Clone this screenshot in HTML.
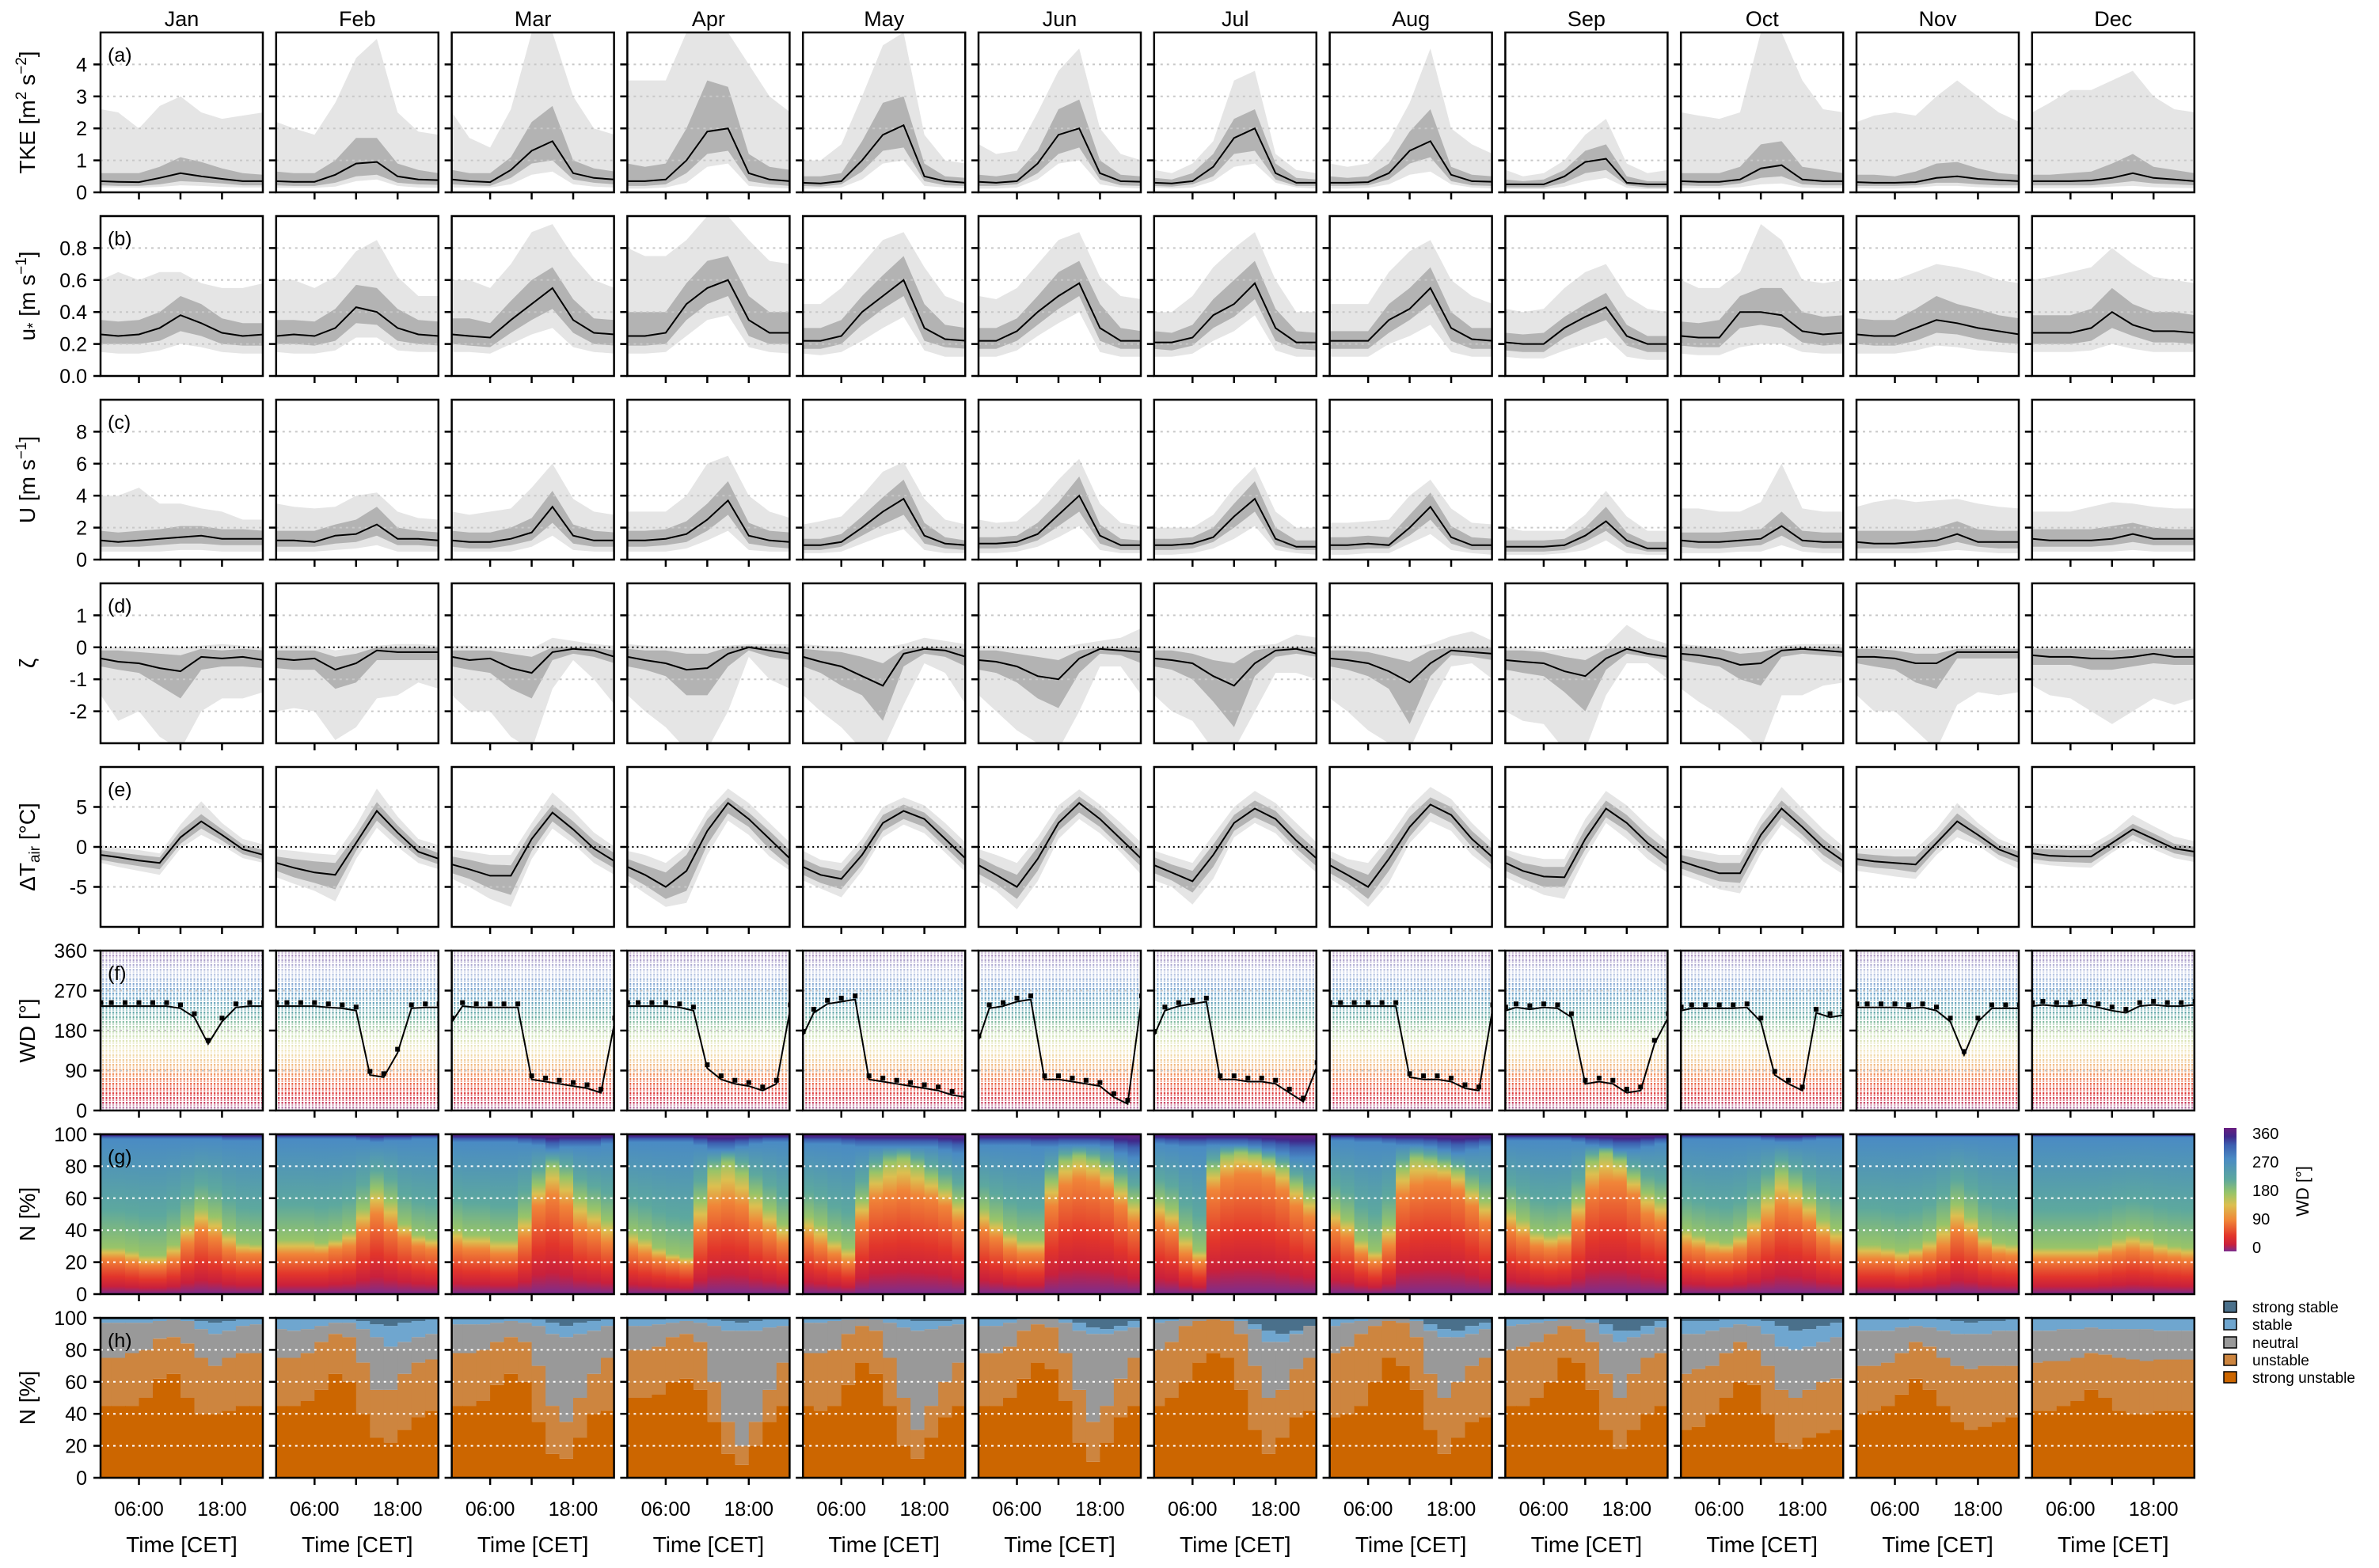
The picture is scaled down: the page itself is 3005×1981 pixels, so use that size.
<!DOCTYPE html>
<html><head><meta charset="utf-8"><style>
html,body{margin:0;padding:0;background:#fff;}
svg{display:block;font-family:"Liberation Sans",Arial,sans-serif;}
</style></head><body>
<svg id="chart" xmlns="http://www.w3.org/2000/svg" width="3005" height="1981" viewBox="0 0 3005 1981">
<defs>
 <linearGradient id="cmapV" x1="0" y1="1" x2="0" y2="0"></linearGradient>
 <linearGradient id="cmapF" x1="0" y1="1" x2="0" y2="0"></linearGradient>
 <pattern id="dots" width="4.27" height="6" patternUnits="userSpaceOnUse">
  <rect x="1.1" y="0" width="2" height="2.6" fill="#fff"/>
  <rect x="1.1" y="3.3" width="2" height="1.6" fill="#fff" opacity="0.7"/>
 </pattern>
 <mask id="dotmask" maskUnits="userSpaceOnUse" x="0" y="0" width="3005" height="1981">
  <rect x="0" y="0" width="3005" height="1981" fill="url(#dots)"/>
 </mask>
</defs>
<g id="bg"></g>
<g font-size="28" text-anchor="middle">
 <text transform="translate(44,142) rotate(-90)">TKE [m<tspan font-size="19" dy="-11">2</tspan><tspan dy="11"> s</tspan><tspan font-size="19" dy="-11">−2</tspan><tspan dy="11">]</tspan></text>
 <text transform="translate(44,374) rotate(-90)">u<tspan font-size="19" dy="4">*</tspan><tspan dy="-4"> [m s</tspan><tspan font-size="19" dy="-11">−1</tspan><tspan dy="11">]</tspan></text>
 <text transform="translate(44,606) rotate(-90)">U [m s<tspan font-size="19" dy="-11">−1</tspan><tspan dy="11">]</tspan></text>
 <text transform="translate(44,838) rotate(-90)">ζ</text>
 <text transform="translate(44,1070) rotate(-90)">ΔT<tspan font-size="19" dy="6">air</tspan><tspan dy="-6"> [°C]</tspan></text>
 <text transform="translate(44,1302) rotate(-90)">WD [°]</text>
 <text transform="translate(44,1534) rotate(-90)">N [%]</text>
 <text transform="translate(44,1766) rotate(-90)">N [%]</text>
</g>
<g>
 <rect x="2809" y="1425" width="16" height="156" fill="url(#cmapV)"/>
 <g font-size="20">
  <text x="2845" y="1439">360</text>
  <text x="2845" y="1475">270</text>
  <text x="2845" y="1511">180</text>
  <text x="2845" y="1547">90</text>
  <text x="2845" y="1583">0</text>
 </g>
 <text font-size="22" text-anchor="middle" transform="translate(2916,1505) rotate(-90)">WD [°]</text>
</g>
<g font-size="19">
 <rect x="2809" y="1644" width="16" height="14" fill="#4a708b" stroke="#000" stroke-width="1.5"/>
 <text x="2845" y="1658">strong stable</text>
 <rect x="2809" y="1666" width="16" height="14" fill="#6fa6cf" stroke="#000" stroke-width="1.5"/>
 <text x="2845" y="1680">stable</text>
 <rect x="2809" y="1689" width="16" height="14" fill="#999999" stroke="#000" stroke-width="1.5"/>
 <text x="2845" y="1703">neutral</text>
 <rect x="2809" y="1711" width="16" height="14" fill="#cd853f" stroke="#000" stroke-width="1.5"/>
 <text x="2845" y="1725">unstable</text>
 <rect x="2809" y="1733" width="16" height="14" fill="#cc6600" stroke="#000" stroke-width="1.5"/>
 <text x="2845" y="1747">strong unstable</text>
</g>
</svg>
<script>
// ---------- data ----------
const months = ["Jan","Feb","Mar","Apr","May","Jun","Jul","Aug","Sep","Oct","Nov","Dec"];
const hrs = [0.5,3,6,9,12,15,18,21,24];
const fHrs = [0.5,2,4,6,8,10,12,14,16,18,20,22,24];
const binStart = [0,2,4,6,8,10,12,14,16,18,20,22];

const tkeMed = [
[.35,.33,.32,.45,.6,.5,.42,.35,.35],[.35,.33,.33,.55,.9,.95,.5,.4,.38],[.4,.35,.32,.7,1.3,1.6,.6,.45,.4],
[.35,.35,.4,1.0,1.9,2.0,.6,.4,.35],[.3,.28,.35,1.0,1.8,2.1,.5,.35,.3],[.33,.3,.35,.9,1.8,2.0,.6,.35,.33],
[.3,.28,.35,.8,1.7,2.0,.6,.3,.3],[.3,.3,.32,.6,1.3,1.6,.55,.35,.33],[.25,.25,.25,.5,.95,1.05,.3,.25,.25],
[.35,.33,.33,.4,.75,.85,.4,.35,.35],[.32,.3,.3,.32,.45,.5,.42,.38,.35],[.35,.35,.35,.37,.45,.6,.45,.4,.35]];
const tkeQ25 = [
[.22,.2,.2,.25,.35,.32,.28,.22,.22],[.22,.2,.2,.3,.5,.55,.3,.25,.23],[.25,.22,.2,.45,.9,1.0,.4,.3,.25],
[.2,.2,.25,.6,1.2,1.3,.35,.25,.2],[.2,.18,.25,.65,1.3,1.4,.35,.22,.2],[.2,.2,.25,.6,1.2,1.4,.4,.22,.2],
[.2,.18,.25,.5,1.2,1.3,.4,.2,.2],[.2,.2,.22,.4,.9,1.1,.35,.22,.2],[.15,.15,.15,.3,.6,.7,.22,.15,.15],
[.22,.2,.2,.28,.45,.5,.25,.22,.22],[.2,.2,.2,.22,.3,.3,.25,.22,.22],[.22,.22,.22,.22,.28,.35,.28,.25,.22]];
const tkeQ75 = [
[.6,.6,.6,.8,1.1,.95,.75,.6,.55],[.65,.6,.6,1.0,1.7,1.7,.9,.7,.6],[.7,.6,.6,1.1,2.2,2.7,1.0,.75,.65],
[.9,.8,.9,2.0,3.5,3.3,1.2,.8,.7],[.5,.5,.6,1.6,2.8,3.0,.9,.5,.45],[.55,.5,.6,1.3,2.6,2.9,1.0,.55,.5],
[.45,.4,.6,1.2,2.3,2.6,.9,.45,.4],[.5,.45,.5,.9,1.9,2.6,.8,.55,.5],[.4,.35,.4,.7,1.3,1.5,.5,.35,.35],
[.6,.6,.6,.8,1.5,1.6,.8,.7,.6],[.55,.55,.5,.65,.9,.95,.75,.6,.55],[.55,.55,.6,.65,.9,1.2,.8,.7,.6]];
const tkeQ05 = [
[.15,.15,.14,.17,.22,.2,.17,.15,.15],[.14,.14,.14,.18,.35,.4,.2,.15,.14],[.15,.15,.15,.25,.55,.65,.25,.18,.15],
[.12,.12,.15,.3,.8,.9,.2,.15,.12],[.12,.12,.15,.4,.9,1.0,.2,.15,.12],[.12,.12,.15,.4,.9,1.0,.25,.15,.12],
[.15,.12,.15,.35,.8,.9,.3,.15,.12],[.12,.12,.14,.25,.55,.65,.25,.15,.12],[.1,.1,.1,.18,.35,.45,.14,.1,.1],
[.13,.13,.13,.16,.25,.28,.15,.13,.13],[.13,.12,.12,.14,.2,.2,.16,.14,.13],[.13,.13,.13,.14,.18,.2,.16,.14,.13]];
const tkeQ95 = [
[2.6,2.5,2.0,2.7,3.0,2.5,2.3,2.4,2.5],[2.2,2.0,1.8,2.8,4.2,4.8,2.5,1.9,1.8],[2.5,1.7,1.4,2.6,5,5,3,2,1.8],
[3.5,3.5,3.5,5,5,5,4,3,2.5],[1.0,1.0,1.5,3,4.6,5,1.8,1.0,.9],[1.5,1.2,1.3,2.5,3.8,4.5,2.0,1.2,1.0],
[.7,.6,.9,1.6,3.5,3.8,1.2,.7,.6],[.9,.8,.9,1.6,2.8,4.5,2.0,1.5,1.2],[.7,.5,.6,1.0,1.8,2.3,.9,.6,.7],
[2.5,2.4,2.3,2.5,5,5,3.5,2.6,2.5],[2.2,2.4,2.5,2.4,3.0,3.5,3.0,2.5,2.2],[2.5,2.8,3.2,3.2,3.5,3.8,3.0,2.6,2.5]];

const usMed = [
[.26,.25,.26,.3,.38,.33,.27,.25,.26],[.25,.26,.25,.3,.43,.4,.3,.26,.25],[.26,.25,.24,.35,.45,.55,.35,.27,.26],
[.25,.25,.27,.45,.55,.6,.35,.27,.27],[.22,.22,.25,.4,.5,.6,.3,.23,.22],[.22,.22,.28,.4,.5,.58,.3,.22,.22],
[.21,.21,.24,.38,.45,.58,.3,.21,.21],[.22,.22,.22,.35,.42,.55,.3,.23,.22],[.21,.2,.2,.3,.37,.43,.25,.2,.2],
[.25,.24,.24,.4,.4,.38,.28,.26,.27],[.26,.25,.25,.3,.35,.33,.3,.28,.26],[.27,.27,.27,.3,.4,.32,.28,.28,.27]];
const usQ25 = [
[.2,.2,.2,.22,.28,.25,.2,.19,.19],[.2,.2,.19,.22,.33,.32,.22,.2,.19],[.2,.19,.18,.27,.35,.42,.27,.2,.19],
[.19,.19,.2,.35,.45,.5,.25,.2,.2],[.17,.17,.2,.32,.42,.5,.22,.18,.17],[.17,.17,.22,.32,.42,.5,.22,.17,.17],
[.17,.16,.19,.3,.37,.48,.22,.17,.16],[.17,.17,.17,.27,.35,.45,.22,.17,.17],[.16,.15,.15,.24,.3,.35,.19,.15,.15],
[.19,.18,.18,.3,.32,.3,.21,.19,.2],[.2,.19,.19,.22,.27,.26,.23,.21,.2],[.2,.2,.2,.22,.3,.25,.21,.21,.2]];
const usQ75 = [
[.35,.34,.35,.4,.5,.45,.36,.33,.33],[.35,.35,.34,.42,.57,.55,.42,.35,.34],[.36,.36,.33,.47,.6,.68,.48,.36,.35],
[.4,.4,.4,.58,.72,.75,.5,.4,.4],[.3,.3,.35,.5,.63,.75,.45,.32,.3],[.3,.3,.36,.5,.65,.72,.45,.3,.28],
[.28,.27,.32,.48,.6,.72,.42,.28,.27],[.28,.28,.28,.45,.55,.68,.4,.3,.3],[.27,.26,.27,.37,.45,.52,.32,.25,.25],
[.34,.33,.35,.5,.55,.55,.4,.37,.38],[.36,.35,.35,.42,.5,.45,.42,.38,.36],[.38,.38,.38,.42,.55,.45,.4,.4,.38]];
const usQ05 = [
[.15,.14,.14,.16,.2,.18,.15,.14,.14],[.15,.14,.14,.16,.24,.24,.16,.15,.15],[.15,.15,.14,.2,.26,.3,.18,.15,.14],
[.14,.14,.15,.25,.35,.38,.18,.15,.14],[.14,.13,.15,.22,.3,.37,.16,.12,.12],[.12,.12,.16,.25,.33,.4,.15,.12,.12],
[.12,.12,.14,.22,.28,.38,.16,.12,.12],[.12,.12,.12,.2,.25,.32,.15,.12,.12],[.12,.11,.11,.16,.2,.24,.12,.1,.1],
[.14,.13,.13,.18,.2,.2,.15,.14,.14],[.14,.14,.14,.16,.19,.18,.16,.15,.14],[.15,.15,.15,.16,.2,.17,.15,.15,.15]];
const usQ95 = [
[.6,.65,.6,.65,.65,.58,.55,.55,.58],[.6,.6,.55,.62,.78,.85,.62,.5,.5],[.6,.6,.55,.7,.9,.95,.75,.6,.55],
[.8,.75,.75,.85,1.0,1.0,.85,.72,.7],[.45,.45,.55,.7,.85,.9,.68,.5,.45],[.5,.48,.55,.7,.85,.9,.62,.5,.48],
[.4,.4,.5,.68,.8,.9,.6,.4,.4],[.45,.45,.45,.65,.78,.85,.6,.5,.45],[.42,.4,.42,.55,.65,.7,.5,.42,.4],
[.6,.55,.55,.65,.95,.85,.6,.58,.6],[.6,.6,.6,.65,.7,.68,.65,.6,.58],[.6,.62,.65,.68,.8,.7,.62,.6,.58]];

const uMed = [
[1.2,1.1,1.2,1.3,1.4,1.5,1.3,1.3,1.3],[1.2,1.2,1.1,1.5,1.6,2.2,1.3,1.3,1.2],[1.2,1.1,1.1,1.3,1.7,3.3,1.5,1.2,1.2],
[1.2,1.2,1.3,1.6,2.5,3.7,1.5,1.2,1.1],[.9,.9,1.1,2.0,3.0,3.8,1.5,1,.9],[1,1,1.1,1.6,2.8,4,1.5,.9,.9],
[.9,.9,1,1.4,2.7,3.8,1.3,.8,.8],[.9,.9,1,.9,2.0,3.3,1.4,.9,.9],[.8,.8,.8,.9,1.5,2.4,1.2,.7,.7],
[1.2,1.1,1.1,1.2,1.3,2.1,1.2,1.1,1.1],[1.1,1.0,1.0,1.1,1.2,1.6,1.1,1.1,1.1],[1.3,1.2,1.2,1.2,1.3,1.6,1.3,1.3,1.3]];
const uQ25 = [
[.8,.8,.8,.9,1,1,.9,.9,.9],[.8,.8,.8,1,1.1,1.5,.9,.9,.8],[.8,.7,.7,.9,1.2,2.3,1,.8,.8],
[.8,.8,.9,1.1,1.8,2.8,1,.8,.7],[.6,.6,.8,1.5,2.2,2.8,1,.7,.6],[.7,.7,.8,1.2,2.1,3,1,.6,.6],
[.6,.6,.7,1.1,2,3,.9,.6,.6],[.6,.6,.7,.7,1.5,2.5,1,.6,.6],[.5,.5,.5,.6,1.1,1.8,.8,.5,.5],
[.8,.7,.7,.8,.9,1.5,.8,.7,.7],[.7,.7,.7,.7,.8,1.1,.8,.7,.7],[.8,.8,.8,.8,.9,1.1,.9,.9,.9]];
const uQ75 = [
[1.8,1.7,1.8,1.9,2.1,2.1,1.9,1.9,1.8],[1.8,1.8,1.8,2.2,2.5,3.3,2,1.8,1.7],[1.8,1.7,1.7,2,2.6,4.3,2.2,1.8,1.7],
[1.8,1.8,1.9,2.4,3.5,4.9,2.3,1.8,1.7],[1.3,1.3,1.6,2.7,3.9,5.0,2.3,1.4,1.2],[1.4,1.4,1.5,2.3,3.6,5.2,2.2,1.3,1.2],
[1.3,1.3,1.4,2.0,3.5,4.9,2,1.2,1.2],[1.4,1.4,1.5,1.4,2.8,4.2,2.1,1.4,1.3],[1.2,1.2,1.2,1.3,2,3.3,1.7,1.1,1.1],
[1.7,1.7,1.7,1.8,1.9,3.0,1.8,1.7,1.7],[1.8,1.8,1.8,1.8,2,2.4,1.9,1.8,1.8],[1.9,1.9,1.9,1.9,2.1,2.3,2,1.9,1.9]];
const uQ05 = [
[.5,.5,.5,.5,.6,.6,.5,.5,.5],[.5,.5,.5,.6,.7,.9,.5,.5,.5],[.5,.5,.5,.5,.8,1.5,.6,.5,.5],
[.5,.5,.5,.7,1.2,1.8,.6,.5,.5],[.4,.4,.5,1,1.5,1.9,.6,.4,.4],[.4,.4,.5,.8,1.4,2.1,.6,.4,.4],
[.3,.3,.4,.7,1.3,2.1,.6,.4,.3],[.3,.3,.4,.4,1,1.6,.6,.4,.3],[.3,.3,.3,.4,.6,1.2,.4,.3,.3],
[.4,.4,.4,.5,.5,.9,.5,.4,.4],[.4,.4,.4,.4,.5,.6,.5,.4,.4],[.5,.5,.5,.5,.5,.6,.5,.5,.5]];
const uQ95 = [
[4,4,4.5,3.5,3.5,3.2,3,2.5,2.5],[3.5,3.3,3.2,3.3,4,4.2,3,2.6,2.5],[3,2.8,3,3.2,4.5,6,3.8,3,2.8],
[3,3,3,4,6,6.5,4,3,2.6],[2.2,2.4,2.7,4,5.5,6.1,3.8,2.5,2.2],[2.5,2.3,2.4,3.5,5,6.3,3.5,2.3,2.1],
[2,2,2,2.8,4.5,5.8,3,2,2],[2.3,2.3,2.4,2.5,4,5,3.2,2.3,2.2],[2,1.8,1.8,1.8,2.8,4.3,2.7,1.8,1.8],
[3.2,3.2,3,3,3.6,6,3.2,3,3],[3.3,3.6,3.8,3.6,3.7,3.8,3.5,3.3,3.2],[3,3,3,3.3,3.6,3.5,3.3,3.2,3.2]];

const zMed = [
[-.35,-.45,-.5,-.65,-.75,-.3,-.35,-.3,-.4],[-.35,-.4,-.35,-.7,-.5,-.1,-.15,-.15,-.15],[-.3,-.4,-.35,-.65,-.8,-.15,-.05,-.1,-.3],
[-.3,-.4,-.5,-.7,-.65,-.2,0,-.1,-.2],[-.3,-.45,-.6,-.9,-1.2,-.2,-.05,-.1,-.3],[-.4,-.45,-.6,-.9,-1.0,-.35,-.05,-.1,-.15],
[-.35,-.4,-.5,-.9,-1.2,-.5,-.1,-.05,-.2],[-.35,-.4,-.5,-.75,-1.1,-.5,-.1,-.15,-.2],[-.4,-.45,-.5,-.75,-.9,-.35,-.05,-.2,-.3],
[-.2,-.25,-.35,-.55,-.5,-.1,-.05,-.1,-.15],[-.3,-.3,-.35,-.5,-.5,-.15,-.15,-.15,-.15],[-.25,-.3,-.3,-.35,-.35,-.3,-.2,-.3,-.3]];
const zQ25 = [
[-.6,-.7,-.8,-1.2,-1.6,-.7,-.6,-.6,-.65],[-.65,-.7,-.7,-1.3,-1.1,-.4,-.4,-.4,-.4],[-.6,-.7,-.8,-1.3,-1.6,-.4,-.2,-.3,-.5],
[-.6,-.7,-.9,-1.5,-1.5,-.6,-.1,-.3,-.4],[-.6,-.8,-1.2,-1.5,-2.3,-.6,-.2,-.3,-.6],[-.7,-.8,-1.1,-1.6,-1.9,-.8,-.2,-.25,-.5],
[-.6,-.7,-1,-1.7,-2.5,-.9,-.3,-.2,-.3],[-.6,-.7,-.9,-1.3,-2.4,-.9,-.25,-.3,-.4],[-.7,-.8,-.9,-1.4,-2,-.7,-.2,-.3,-.4],
[-.4,-.5,-.6,-1,-1.2,-.3,-.2,-.25,-.3],[-.5,-.6,-.7,-1.1,-1.3,-.35,-.35,-.35,-.35],[-.55,-.55,-.55,-.7,-.7,-.6,-.5,-.55,-.55]];
const zQ75 = [
[-.1,-.1,-.15,-.2,-.25,-.05,-.1,-.05,-.1],[-.1,-.1,-.1,-.3,-.2,0,0,0,0],[-.1,-.1,-.1,-.2,-.3,0,0,0,-.1],
[-.05,-.1,-.1,-.2,-.2,0,.05,0,0],[-.05,-.1,-.15,-.3,-.5,-.05,0,0,-.05],[-.1,-.1,-.2,-.3,-.4,-.1,0,0,0],
[-.1,-.1,-.2,-.4,-.5,-.1,0,0,0],[-.1,-.1,-.15,-.3,-.45,-.1,0,0,0],[-.1,-.1,-.15,-.3,-.4,-.05,0,0,0],
[0,0,-.05,-.2,-.15,0,0,0,0],[-.05,-.05,-.1,-.2,-.2,-.05,-.05,-.05,-.05],[-.05,-.05,-.05,-.05,-.1,-.05,-.05,-.05,-.05]];
const zQ05 = [
[-1.5,-2.3,-2,-2.8,-3.2,-2,-1.6,-1.6,-1.4],[-2,-1.9,-2,-2.9,-2.5,-1.6,-1.5,-1.1,-1.3],[-1.5,-2,-2,-2.8,-3.2,-1.3,-.4,-1,-1.8],
[-1.5,-2,-2.5,-3.2,-3.2,-2,-.3,-1,-1.3],[-1.5,-2,-2.5,-3.2,-3.2,-1.8,-.5,-.8,-1.8],[-1.5,-2,-2.6,-3,-3.2,-2,-.6,-.6,-1.5],
[-1.5,-2,-2.3,-3.2,-3.2,-2,-.8,-.8,-1],[-1.6,-2,-2.6,-3,-3.2,-1.8,-.6,-.5,-1],[-2,-2.3,-2.4,-3.2,-3.2,-1.5,-.5,-.5,-1],
[-1.3,-1.7,-2.1,-2.6,-3.2,-1.5,-1.5,-1.2,-1.1],[-1.5,-2,-2,-2.6,-3.2,-1.8,-1.4,-1.5,-1.4],[-1.2,-1.5,-1.6,-2,-2.4,-2,-1.6,-1.8,-1.6]];
const zQ95 = [
[0,0,0,0,0,.05,.1,.05,0],[.05,.05,.05,-.1,0,.05,.1,.1,.05],[.05,.05,0,-.05,-.05,.3,.2,.1,.05],
[.1,.05,0,0,0,.05,.1,.1,.1],[.1,.05,0,0,0,.1,.3,.2,.1],[.05,.05,0,0,0,.1,.2,.3,.6],
[.05,0,0,0,0,.05,.1,.4,.3],[.05,.05,0,0,0,.1,.35,.5,.2],[0,0,-.1,-.05,0,.05,.7,.3,.1],
[.1,.05,0,0,0,.05,.1,.1,.1],[0,.05,0,0,0,.05,.05,.05,0],[0,0,0,0,0,0,0,0,0]];

const tMed = [
[-1,-1.3,-1.7,-2,1.2,3.2,1.5,-.3,-1],[-2,-2.6,-3.2,-3.5,.5,4.5,1.8,-.6,-1.5],[-2.2,-2.8,-3.6,-3.6,1,4.3,2.2,-.2,-1.8],
[-2.5,-3.5,-5,-3,2,5.5,3.5,1,-1.5],[-2.5,-3.5,-4,-1,3,4.5,3.5,1,-1.5],[-2.3,-3.5,-5,-1.5,3,5.5,3.5,1,-1.5],
[-2.3,-3.2,-4.3,-1,3,4.8,3.5,.8,-1.5],[-2.3,-3.5,-5,-1.5,2.5,5.3,4,1,-1.3],[-2,-3,-3.7,-3.8,1,4.8,3,.5,-1.5],
[-1.8,-2.5,-3.3,-3.3,1.5,4.8,2.5,0,-1.8],[-1.5,-1.8,-2,-2.2,.5,3.2,1.5,-.3,-1.3],[-.8,-1.1,-1.2,-1.2,.5,2.2,1,-.2,-.6]];
const tQ25 = [
[-1.6,-2,-2.4,-2.8,.4,2.3,.8,-.9,-1.6],[-3,-3.8,-4.5,-5.3,-.5,3.3,.9,-1.3,-2.2],[-3.3,-4,-5.2,-6,-.5,3.2,1.2,-1.2,-2.7],
[-3.6,-4.8,-6.5,-5.5,.3,4.2,2.5,-.3,-2.5],[-3.5,-4.5,-5.3,-2.2,2,3.5,2.5,0,-2.5],[-3.4,-4.6,-6.5,-3,2,4.3,2.5,0,-2.5],
[-3.3,-4.2,-5.7,-2.5,2,3.7,2.5,-.2,-2.5],[-3.3,-4.5,-6.5,-3,1.3,4.3,3,0,-2.3],[-3,-4,-5,-5,-.3,3.7,2,-.5,-2.5],
[-2.7,-3.5,-4.3,-4.5,.3,3.7,1.5,-1,-2.7],[-2.3,-2.6,-2.8,-3.2,-.3,2.2,.8,-1,-2],[-1.5,-1.8,-1.9,-2,-.3,1.5,.3,-.8,-1.3]];
const tQ75 = [
[-.4,-.7,-1,-1.3,2,4.1,2.2,.3,-.4],[-1.2,-1.5,-1.8,-2,1.5,5.6,2.7,.2,-.8],[-1.2,-1.6,-2.2,-2.3,2,5.3,3.2,.8,-.8],
[-1.5,-2.3,-3.2,-1,3.5,6.2,4.3,2,-.5],[-1.5,-2.5,-3,0,4,5.3,4.3,2,-.5],[-1.3,-2.4,-3.5,0,4,6.3,4.5,2,-.5],
[-1.3,-2.2,-3,.3,4,5.8,4.5,1.8,-.5],[-1.3,-2.5,-3.5,0,3.8,6.2,5,2,-.3],[-1,-2,-2.5,-2.5,2.3,5.8,4,1.5,-.5],
[-1,-1.5,-2,-2,2.7,5.8,3.5,1,-1],[-.8,-1,-1.2,-1.2,1.3,4.2,2.3,.3,-.6],[-.2,-.3,-.4,-.4,1.1,2.9,1.7,.4,0]];
const tQ05 = [
[-2,-2.5,-3,-3.5,-.2,1.5,.2,-1.4,-2],[-3.8,-4.6,-5.5,-6.8,-1.5,2.4,0,-2,-2.8],[-4,-5,-6.5,-7.5,-1.5,2.3,.4,-2,-3.5],
[-4.3,-5.8,-7.5,-7,-1,3.3,1.5,-1.2,-3],[-4.2,-5.2,-6.3,-3,1.2,2.8,1.7,-.7,-3.2],[-4.3,-5.5,-7.8,-4.3,1,3.5,1.7,-.7,-3.5],
[-4.2,-5,-7.2,-4,1.2,3,1.7,-1,-3.3],[-4,-5.3,-7.5,-4.5,.5,3.2,2,-1,-3],[-3.8,-4.8,-6,-6.5,-1.3,3,1,-1.5,-3.3],
[-3.5,-4.2,-5.3,-5.8,-.8,2.8,.8,-1.8,-3.5],[-3,-3.3,-3.7,-4,-1,1.2,.2,-1.6,-2.8],[-2,-2.3,-2.5,-2.6,-.7,.8,-.3,-1.4,-1.9]];
const tQ95 = [
[.2,-.1,-.4,-.8,2.8,5.7,3,1,.3],[-.3,-.5,-.8,-1,2.7,7.3,3.8,1,.2],[-.3,-.6,-1,-1,3,6.8,4.5,1.8,0],
[-.5,-1,-2,0,4.5,7.3,5.5,3,.5],[-.5,-1.6,-2,1,5,6.2,5.2,3,.5],[-.3,-1,-2,1.2,5.2,7.2,5.3,3,.5],
[-.5,-1.2,-2,1.5,5,7,5.5,3,.5],[-.5,-1.5,-2,1.2,5,7.5,6,3,.5],[-.3,-1,-1.5,-1.5,3.5,7,5.2,2.7,.5],
[-.2,-.5,-1,-1,3.7,7.5,4.8,2.2,0],[-.2,-.2,-.3,-.3,2.2,5.5,3,1,0],[.4,.3,.2,.3,1.8,4,2.6,1.3,.7]];

const wdMed = [
[235,235,235,235,235,235,230,210,150,200,232,235,235],[235,235,235,235,232,230,225,80,75,130,230,232,232],
[200,235,232,232,232,232,70,65,60,55,50,40,200],[235,235,235,235,232,225,95,70,60,55,45,60,230],
[170,220,240,245,250,70,65,60,55,50,45,35,30],[160,230,235,245,250,70,70,65,60,55,30,15,250],
[170,225,235,240,245,70,70,65,65,60,40,20,100],[235,235,235,235,235,235,75,70,70,65,50,45,230],
[225,232,228,232,230,210,60,65,60,40,45,150,210],[225,230,230,230,230,232,200,80,60,45,220,210,215],
[232,232,232,232,230,232,225,200,125,200,230,230,230],[235,238,235,235,238,232,225,220,235,238,235,235,238]];

const gB90 = [
[22,22,20,18,18,22,32,40,35,28,25,25],[25,25,25,25,28,30,40,50,42,35,30,28],[30,28,28,25,25,35,55,62,55,42,38,32],
[28,25,22,20,18,40,55,58,55,45,38,32],[35,30,25,20,45,60,62,65,62,60,55,45],[40,35,28,25,25,55,68,72,70,65,55,45],
[45,40,25,20,65,72,75,75,72,65,55,48],[40,35,25,20,30,62,68,70,70,65,55,45],[40,35,30,28,30,45,65,70,70,62,50,45],
[30,28,25,25,28,35,45,55,52,45,35,30],[22,22,22,20,22,25,30,40,35,28,25,24],[22,22,22,22,22,24,26,28,26,24,23,22]];
const gB180 = [
[30,30,28,25,25,32,45,55,50,40,33,32],[35,35,35,33,35,40,55,68,60,45,38,36],[42,38,38,35,35,50,70,82,75,62,55,48],
[40,36,30,26,24,60,80,85,78,65,55,45],[50,45,35,30,60,78,85,87,82,75,68,60],[55,48,40,35,35,72,85,88,85,80,70,60],
[60,55,38,28,80,88,90,88,85,80,70,62],[55,48,35,28,45,80,87,85,82,78,68,60],[55,48,40,38,40,60,85,90,85,75,65,60],
[42,38,35,33,38,50,65,78,70,60,48,42],[32,32,30,28,30,35,45,58,50,38,33,32],[30,30,30,30,30,32,36,38,36,33,31,30]];
const gB270 = [
[97,97,97,97,97,97,97,97,97,96,96,96],[97,97,97,97,97,97,96,95,96,96,97,97],[95,95,95,95,95,94,93,90,92,92,92,94],
[95,95,95,95,95,93,90,90,92,94,95,95],[94,94,94,93,92,92,92,92,92,92,90,88],[93,93,93,93,92,92,93,93,93,92,88,85],
[94,93,92,92,93,93,93,92,90,88,85,85],[96,96,95,95,94,93,93,92,90,88,90,92],[96,96,96,96,96,95,93,92,90,90,92,94],
[97,97,97,97,97,97,96,95,95,96,97,97],[98,98,98,98,98,98,98,98,98,98,98,98],[98,98,98,98,98,98,98,98,98,98,98,98]];

const sStrongUnst = [
[45,45,45,50,62,65,50,40,40,42,45,45],[45,45,48,55,65,60,40,25,22,30,38,42],[45,45,48,58,65,60,35,15,12,25,40,42],
[50,50,52,60,62,55,35,15,8,20,35,45],[45,42,45,58,72,65,45,20,12,25,38,45],[45,45,50,62,72,68,48,22,10,22,38,45],
[45,50,60,72,78,75,55,30,15,25,38,42],[38,40,45,60,75,70,55,30,15,25,35,38],[45,45,50,60,75,72,55,30,18,30,40,45],
[30,32,40,50,60,58,40,22,18,25,28,30],[40,42,45,52,62,55,45,35,30,32,35,38],[42,42,45,48,55,50,42,40,40,42,42,42]];
const sUnst = [
[75,75,78,80,87,88,84,75,70,75,78,78],[75,75,78,85,90,88,72,55,55,65,72,74],[78,78,80,85,88,85,70,45,35,50,65,75],
[80,80,82,88,90,85,60,35,20,35,55,72],[78,78,80,90,95,92,75,50,30,45,60,72],[78,78,82,92,96,94,78,55,35,45,62,75],
[80,85,95,98,99,98,90,70,50,55,68,75],[78,82,90,95,98,97,88,65,50,60,70,75],[80,82,85,90,95,93,85,65,50,65,75,78],
[65,68,70,78,85,80,70,55,50,55,60,62],[70,70,72,78,85,82,75,70,68,70,70,70],[72,73,73,75,78,77,75,74,73,74,74,74]];
const sNeutral = [
[97,97,97,97,98,99,98,93,90,92,95,96],[93,92,93,95,97,97,93,88,82,85,88,90],[96,96,96,97,98,97,95,90,88,90,92,95],
[95,95,96,97,98,97,95,92,92,92,94,95],[97,97,98,99,100,99,97,94,92,93,95,96],[95,95,97,99,100,100,97,92,90,90,92,94],
[97,98,99,100,100,100,98,93,85,85,90,95],[95,97,98,99,100,100,98,92,88,88,90,93],[95,96,97,98,99,99,97,90,85,88,90,94],
[90,90,92,94,96,95,90,82,80,82,85,88],[92,92,92,94,95,94,92,90,90,90,92,92],[92,92,93,93,94,93,93,93,93,92,92,92]];
const sStable = [
[99,99,99,99,99.5,100,99,98,97,98,99,99],[99,99,99,99,99,99,98,96,95,97,98,99],[99,99,99,99,99.5,99.5,99,97,95,97,98,99],
[99,99,99,100,100,100,99,98,97,98,99,99],[99,99,99,100,100,100,99.5,99,98,98,98,99],[99,99,99,100,100,100,99,97,94,93,95,98],
[99,99,100,100,100,100,99,96,92,90,92,95],[99,99,100,100,100,100,99,96,93,92,95,97],[99,99,99,100,100,100,99,96,92,92,95,98],
[98,98,98,99,99,99,98,95,92,93,95,97],[99,99,99,99,99.5,99.5,99,98,97,98,98,99],[99,99,99,99,99,99,99,99,99,99,99,99]];

const yTicks = [[0,1,2,3,4],[0,0.2,0.4,0.6,0.8],[0,2,4,6,8],[-2,-1,0,1],[-5,0,5],[0,90,180,270,360],[0,20,40,60,80,100],[0,20,40,60,80,100]];
const yTickLabels = [["0","1","2","3","4"],["0.0","0.2","0.4","0.6","0.8"],["0","2","4","6","8"],["-2","-1","0","1"],["-5","0","5"],["0","90","180","270","360"],["0","20","40","60","80","100"],["0","20","40","60","80","100"]];
const yGrid = [[1,2,3,4],[0.2,0.4,0.6,0.8],[2,4,6,8],[-2,-1,1],[-5,5],[90,180,270],[20,40,60,80],[20,40,60,80]];
const xTicks = [6,12,18];
const xTickLabels = ["06:00","18:00"];
const xLabelHours = [6,18];
const panelLetters = ["(a)","(b)","(c)","(d)","(e)","(f)","(g)","(h)"];
const cmapWD = [0,20,45,90,135,170,210,270,310,335,360];
const cmapCol = ["#7b2d8e","#c9203c","#e2352b","#f08538","#dcbf50","#98c468","#5da89e","#4a8bc4","#3d5fb0","#40288a","#6a1e80"];
const scatterDensity = [0.55,0.95,1,0.85,0.4,0.5,1,0.85,0.35,0.45,0.55];

// ---------- layout ----------
const L0=127, PX=221.8, PW=205, T0=41, PY=232, PH=202;
const rowLim = [[0,5],[0,1],[0,10],[-3,2],[-10,10],[0,360],[0,100],[0,100]];
const NS="http://www.w3.org/2000/svg";
const svg=document.getElementById('chart');
const bg=document.getElementById('bg');
const defs=svg.querySelector('defs');
function el(tag,attrs,parent){const e=document.createElementNS(NS,tag);for(const k in attrs)e.setAttribute(k,attrs[k]);(parent||svg).appendChild(e);return e;}
function px(m){return L0+m*PX;}
function xs(m,h){return px(m)+(h-0.45)*PW/23.45;}
function ys(r,v){const lo=rowLim[r][0],hi=rowLim[r][1];return T0+r*PY+PH-(v-lo)/(hi-lo)*PH;}

(function(){
  const g=document.getElementById('cmapV');
  cmapWD.forEach((w,i)=>{el('stop',{offset:(w/360).toFixed(4),'stop-color':cmapCol[i]},g);});
  const f=document.getElementById('cmapF');
  cmapWD.forEach((w,i)=>{el('stop',{offset:(w/360).toFixed(4),'stop-color':cmapCol[i],'stop-opacity':scatterDensity[i]},f);});
})();

for(let r=0;r<8;r++)for(let m=0;m<12;m++){
  const cp=el('clipPath',{id:'cp'+r+'_'+m},defs);
  el('rect',{x:px(m),y:T0+r*PY,width:PW,height:PH},cp);
}

const bandRows=[[tkeMed,tkeQ25,tkeQ75,tkeQ05,tkeQ95],[usMed,usQ25,usQ75,usQ05,usQ95],[uMed,uQ25,uQ75,uQ05,uQ95],[zMed,zQ25,zQ75,zQ05,zQ95],[tMed,tQ25,tQ75,tQ05,tQ95]];
const rowNames=['tke','ustar','windspeed','zeta','dtair','wd','wd-freq','stability'];

function band(r,m,lo,hi,fill,g,name){
  let pts=[];
  hrs.forEach((h,i)=>pts.push(xs(m,h).toFixed(1)+','+ys(r,hi[m][i]).toFixed(1)));
  for(let i=hrs.length-1;i>=0;i--)pts.push(xs(m,hrs[i]).toFixed(1)+','+ys(r,lo[m][i]).toFixed(1));
  const p=el('polygon',{points:pts.join(' '),fill:fill},g);
  
  
}

for(let r=0;r<8;r++){
  for(let m=0;m<12;m++){
    const g=el('g',{'clip-path':'url(#cp'+r+'_'+m+')'},bg);
    
    
    const top=T0+r*PY, left=px(m);
    if(r<5){
      const [med,q25,q75,q05,q95]=bandRows[r];
      band(r,m,q05,q95,'#e5e5e5',g,'band-5-95');
      band(r,m,q25,q75,'#b3b3b3',g,'band-25-75');
    } else if(r===5){
      const sc=el('rect',{x:left,y:top,width:PW,height:PH,fill:'url(#cmapF)',mask:'url(#dotmask)'},g);
      
      
    } else if(r===6){
      binStart.forEach((h0,i)=>{
        const gid='gg'+m+'_'+i;
        const lg=el('linearGradient',{id:gid,x1:0,y1:1,x2:0,y2:0},defs);
        const b=[0,gB90[m][i],gB180[m][i],gB270[m][i],100];
        cmapWD.forEach((w,k)=>{
          const seg=Math.min(3,Math.floor(w/90));const f=(w-seg*90)/90;
          const n=b[seg]+(b[seg+1]-b[seg])*f;
          el('stop',{offset:(n/100).toFixed(4),'stop-color':cmapCol[k]},lg);
        });
        const x0=xs(m,h0),x1=xs(m,h0+2);
        const c=el('rect',{x:x0.toFixed(1),y:top,width:(x1-x0+0.6).toFixed(1),height:PH,fill:'url(#'+gid+')'},g);
        
        
      });
    } else {
      const layers=[[null,sStrongUnst,'#cc6600','strong-unstable'],[sStrongUnst,sUnst,'#cd853f','unstable'],[sUnst,sNeutral,'#999999','neutral'],[sNeutral,sStable,'#6fa6cf','stable'],[sStable,null,'#4a708b','strong-stable']];
      binStart.forEach((h0,i)=>{
        const x0=xs(m,h0),x1=xs(m,h0+2);
        layers.forEach(([lo,hi,col,nm])=>{
          const v0=lo?lo[m][i]:0, v1=hi?hi[m][i]:100;
          const y1=ys(r,v1), y0=ys(r,v0);
          const c=el('rect',{x:x0.toFixed(1),y:y1.toFixed(1),width:(x1-x0+0.6).toFixed(1),height:Math.max(0,y0-y1).toFixed(1),fill:col},g);
          
          
        });
      });
    }
    yGrid[r].forEach(v=>{
      const white=r>=6;
      const gl=el('line',{x1:left,x2:left+PW,y1:ys(r,v),y2:ys(r,v),stroke:white?'#ffffff':'#c8c8c8','stroke-width':2,'stroke-dasharray':'3,5'},g);
      
      
    });
    if(r===3||r===4){
      const zl=el('line',{x1:left,x2:left+PW,y1:ys(r,0),y2:ys(r,0),stroke:'#000','stroke-width':2,'stroke-dasharray':'2,4'},g);
      
      
    }
    if(r<5){
      const med=bandRows[r][0];
      const ml=el('polyline',{points:hrs.map((h,i)=>xs(m,h).toFixed(1)+','+ys(r,med[m][i]).toFixed(1)).join(' '),fill:'none',stroke:'#000','stroke-width':2},g);
      
      
    }
    if(r===5){
      const ml=el('polyline',{points:fHrs.map((h,i)=>xs(m,h).toFixed(1)+','+ys(r,wdMed[m][i]).toFixed(1)).join(' '),fill:'none',stroke:'#000','stroke-width':2},g);
      
      
      fHrs.forEach((h,i)=>{
        const d=el('rect',{x:(xs(m,h)-3).toFixed(1),y:(ys(r,wdMed[m][i]+8)-3).toFixed(1),width:6,height:6,fill:'#000'},g);
        
        
      });
    }
    const fr=el('rect',{x:left,y:top,width:PW,height:PH,fill:'none',stroke:'#000','stroke-width':2.5},bg);
    
    
    yTicks[r].forEach((v,k)=>{
      const t=el('line',{x1:left-9,x2:left,y1:ys(r,v),y2:ys(r,v),stroke:'#000','stroke-width':2.5},bg);
      
      
      if(m===0){
        const tl=el('text',{x:left-17,y:(ys(r,v)+9).toFixed(1),'text-anchor':'end','font-size':25},bg);
        tl.textContent=yTickLabels[r][k];
        
        
      }
    });
    xTicks.forEach(h=>{
      const t=el('line',{x1:xs(m,h),x2:xs(m,h),y1:top+PH,y2:top+PH+9,stroke:'#000','stroke-width':2.5},bg);
      
      
    });
    if(m===0){
      const pl=el('text',{x:left+9,y:top+37,'font-size':25},bg);
      pl.textContent=panelLetters[r];
      
      
    }
    if(r===0){
      const mt=el('text',{x:(left+PW/2).toFixed(1),y:33,'text-anchor':'middle','font-size':27},bg);
      mt.textContent=months[m];
      
      
    }
    if(r===7){
      xLabelHours.forEach((h,k)=>{
        const xl=el('text',{x:xs(m,h).toFixed(1),y:1915,'text-anchor':'middle','font-size':25},bg);
        xl.textContent=xTickLabels[k];
        
        
      });
      const xt=el('text',{x:(left+PW/2).toFixed(1),y:1961,'text-anchor':'middle','font-size':28},bg);
      xt.textContent='Time [CET]';
      
      
    }
  }
}
</script>
</body></html>
